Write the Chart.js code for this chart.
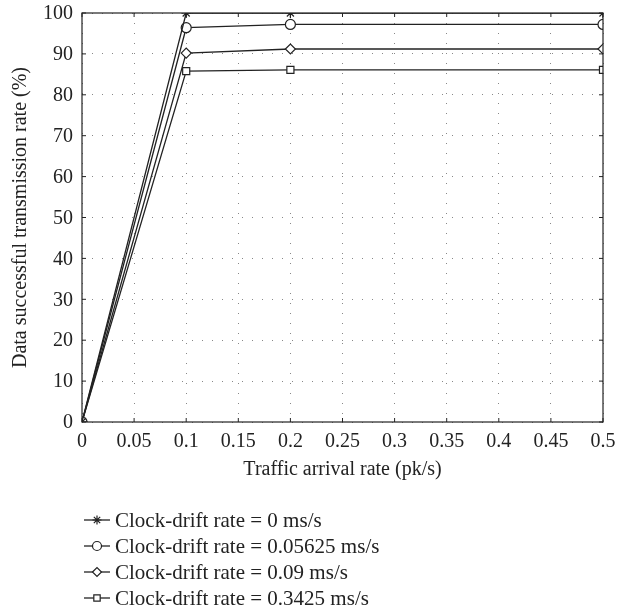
<!DOCTYPE html>
<html>
<head>
<meta charset="utf-8">
<script src="https://cdn.jsdelivr.net/npm/chart.js@4/dist/chart.umd.min.js"></script>
<style>
  html, body { margin: 0; padding: 0; background: #fff; }
  #wrap { width: 618px; height: 613px; }
</style>
</head>
<body>
<div id="wrap"><canvas id="drift-chart" width="618" height="613"></canvas></div>
<script>
// traffic arrival rate (pk/s)
var arrivalRates = [0, 0.1, 0.2, 0.5];
var seriesLabels = [
    'Clock-drift rate = 0 ms/s',
    'Clock-drift rate = 0.05625 ms/s',
    'Clock-drift rate = 0.09 ms/s',
    'Clock-drift rate = 0.3425 ms/s'
];
var drift0 = [0, 100, 100, 100];
var drift005625 = [0, 96.4, 97.2, 97.2];
var drift009 = [0, 90.2, 91.2, 91.2];
var drift03425 = [0, 85.8, 86.1, 86.1];
var xTicks = [0, 0.05, 0.1, 0.15, 0.2, 0.25, 0.3, 0.35, 0.4, 0.45, 0.5];
var yTicks = [0, 10, 20, 30, 40, 50, 60, 70, 80, 90, 100];
var xTitle = 'Traffic arrival rate (pk/s)';
var yTitle = 'Data successful transmission rate (%)';

var serif = "'Liberation Serif', 'DejaVu Serif', serif";
var ink = '#222';

function toPoints(values) {
    return values.map(function (v, i) { return { x: arrivalRates[i], y: v }; });
}

var markers = ['star', 'circle', 'rectRot', 'rect'];
var allSeries = [drift0, drift005625, drift009, drift03425];

var datasets = allSeries.map(function (vals, i) {
    return {
        label: seriesLabels[i],
        data: toPoints(vals),
        borderColor: ink,
        borderWidth: 1.3,
        pointStyle: markers[i],
        pointRadius: 5,
        pointBorderWidth: 1.2,
        pointBorderColor: ink,
        pointBackgroundColor: '#fff',
        tension: 0
    };
});

// frame, ticks, tick labels, axis titles and the legend
var framePlugin = {
    id: 'frame',
    afterDraw: function (chart) {
        var ctx = chart.ctx;
        var a = chart.chartArea;
        var xs = chart.scales.x, ys = chart.scales.y;
        ctx.save();
        ctx.strokeStyle = ink;
        ctx.lineWidth = 1.2;
        ctx.strokeRect(a.left, a.top, a.right - a.left, a.bottom - a.top);
        ctx.lineWidth = 1;
        ctx.fillStyle = ink;
        ctx.font = '20px ' + serif;

        ctx.textAlign = 'center';
        ctx.textBaseline = 'middle';
        xTicks.forEach(function (t) {
            var px = xs.getPixelForValue(t);
            ctx.beginPath();
            ctx.moveTo(px, a.bottom); ctx.lineTo(px, a.bottom - 4);
            ctx.moveTo(px, a.top); ctx.lineTo(px, a.top + 4);
            ctx.stroke();
            ctx.fillText(String(t), px, a.bottom + 20);
        });
        ctx.textAlign = 'right';
        yTicks.forEach(function (t) {
            var py = ys.getPixelForValue(t);
            ctx.beginPath();
            ctx.moveTo(a.left, py); ctx.lineTo(a.left + 4, py);
            ctx.moveTo(a.right, py); ctx.lineTo(a.right - 4, py);
            ctx.stroke();
            ctx.fillText(String(t), a.left - 9, py + 1);
        });

        // axis titles
        ctx.textAlign = 'center';
        ctx.fillText(xTitle, (a.left + a.right) / 2, a.bottom + 48);
        ctx.save();
        ctx.translate(21, (a.top + a.bottom) / 2);
        ctx.rotate(-Math.PI / 2);
        ctx.fillText(yTitle, 0, 0);
        ctx.restore();

        // legend
        var lx = 84, ly = 520, step = 26;
        ctx.font = '21px ' + serif;
        ctx.textAlign = 'left';
        chart.data.datasets.forEach(function (ds, i) {
            var y = ly + i * step;
            ctx.strokeStyle = ink;
            ctx.lineWidth = 1.3;
            ctx.beginPath();
            ctx.moveTo(lx, y); ctx.lineTo(lx + 26, y);
            ctx.stroke();
            ctx.fillStyle = '#fff';
            ctx.lineWidth = 1.2;
            Chart.helpers.drawPoint(ctx, { pointStyle: ds.pointStyle, radius: 4.5, borderWidth: 1.2 }, lx + 13, y);
            ctx.fillStyle = ink;
            ctx.fillText(ds.label, lx + 31, y + 1);
        });
        ctx.restore();
    }
};

var ctxDrift = document.getElementById('drift-chart').getContext('2d');
var chartDrift = new Chart(ctxDrift, {
    type: 'line',
    data: { datasets: datasets },
    options: {
        responsive: false,
        animation: false,
        layout: { autoPadding: false, padding: { left: 82, right: 15, top: 13, bottom: 191 } },
        plugins: {
            legend: { display: false },
            tooltip: { enabled: false }
        },
        scales: {
            x: {
                type: 'linear',
                min: 0,
                max: 0.5,
                afterBuildTicks: function (s) { s.ticks = xTicks.map(function (v) { return { value: v }; }); },
                afterFit: function (s) { s.height = 0; },
                ticks: { display: false },
                grid: { color: '#888', lineWidth: 1, drawTicks: false, tickLength: 0 },
                border: { display: false, dash: [1, 9] }
            },
            y: {
                min: 0,
                max: 100,
                afterBuildTicks: function (s) { s.ticks = yTicks.map(function (v) { return { value: v }; }); },
                afterFit: function (s) { s.width = 0; },
                ticks: { display: false },
                grid: { color: '#888', lineWidth: 1, drawTicks: false, tickLength: 0 },
                border: { display: false, dash: [1, 9] }
            }
        }
    },
    plugins: [framePlugin]
});
</script>
</body>
</html>
